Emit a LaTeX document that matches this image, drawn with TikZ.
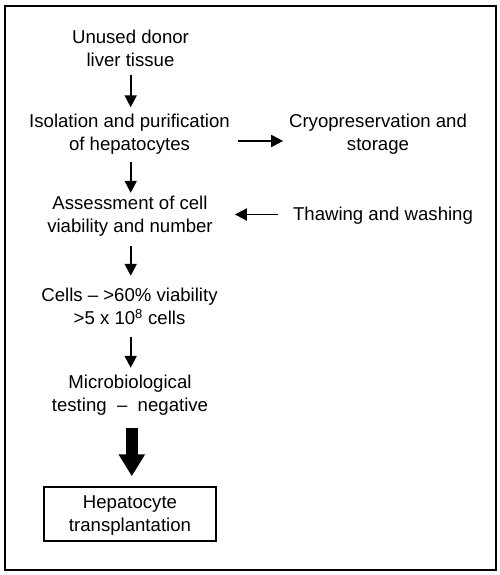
\documentclass[tikz,border=0pt]{standalone}
\usepackage{fontspec}
\setmainfont{Liberation Sans}
\usetikzlibrary{arrows.meta}
\begin{document}
\begin{tikzpicture}[x=1pt,y=-1pt,
  txt/.style={font=\fontsize{18.6}{23}\selectfont, align=center, inner sep=0pt},
  arr/.style={line width=1.9pt, -{Triangle[length=12pt,width=12pt]}},
  bigarr/.style={line width=12pt, -{Triangle[length=22pt,width=25pt]}},
  boxed/.style={draw, line width=1.4pt, minimum width=172pt, minimum height=54pt}
]
\useasboundingbox (0,0) rectangle (500,575);
\draw[line width=1.5pt] (5,6) rectangle (496,570);

\node[txt] (donor) at (130.5,50.5) {\strut Unused donor\\liver tissue\strut};
\node[txt] (iso) at (129.5,134.5) {\strut Isolation and purification\\of hepatocytes\strut};
\node[txt] (cryo) at (378,134.5) {\strut Cryopreservation and\\storage\strut};
\node[txt] (assess) at (130,216.5) {\strut Assessment of cell\\viability and number\strut};
\node[txt] (thaw) at (383,216) {\strut Thawing and washing\strut};
\node[txt] (cells) at (129.5,308.5) {\strut Cells -- >60\% viability\\>5 x 10\textsuperscript{8} cells\strut};
\node[txt] (micro) at (130,395.5) {\strut Microbiological\\testing~ -- ~negative\strut};
\node[txt, boxed] (hep) at (130,514) {\strut Hepatocyte\\transplantation};

\draw[arr, shorten <=1pt, shorten >=4pt] (donor.south -| 130.7,0) -- (iso.north -| 130.7,0);
\draw[arr, shorten <=4.5pt, shorten >=0.5pt] (iso.south -| 130.7,0) -- (assess.north -| 130.7,0);
\draw[arr, shorten <=6.5pt, shorten >=9.5pt] (assess.south -| 130.7,0) -- (cells.north -| 130.7,0);
\draw[arr, shorten <=5.5pt, shorten >=4.5pt] (cells.south -| 130.7,0) -- (micro.north -| 130.7,0);
\draw[bigarr, shorten <=9.5pt, shorten >=10pt] (micro.south -| 131.8,0) -- (hep.north -| 131.8,0);

\draw[arr, shorten <=8pt, shorten >=5.7pt] ([yshift=-6.5pt]iso.east) -- ([yshift=-6.5pt]iso.east -| cryo.west);
\draw[arr, shorten <=15pt, shorten >=22pt] ([yshift=2pt]assess.east -| thaw.west) -- ([yshift=2pt]assess.east);
\end{tikzpicture}
\end{document}
